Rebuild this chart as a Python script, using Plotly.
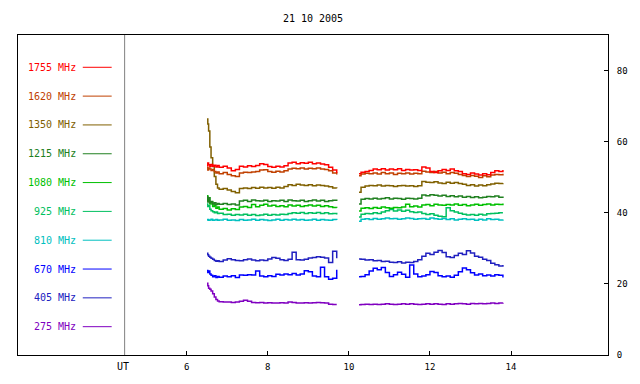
import plotly.graph_objects as go

TITLE = "21 10 2005"
X_TICKS = [6, 8, 10, 12, 14]
Y_TICKS = [0, 20, 40, 60, 80]

FREQ_LABELS = ["1755 MHz", "1620 MHz", "1350 MHz", "1215 MHz", "1080 MHz",
               "925 MHz", "810 MHz", "670 MHz", "405 MHz", "275 MHz"]
COLORS = ["#ff0000", "#c04000", "#806000", "#208020", "#00c000",
          "#00c060", "#00c0c0", "#0000ff", "#2020c0", "#8000c0"]

# time axis (UT hours), first and second observing segment
T1 = [6.50, 6.52, 6.54, 6.57, 6.60, 6.64, 6.68, 6.72, 6.76, 6.80, 6.9, 7.0, 7.1, 7.2,
      7.3, 7.4, 7.5, 7.6, 7.7, 7.8, 7.9, 8.0, 8.1, 8.2, 8.3, 8.4, 8.5, 8.6, 8.7, 8.8,
      8.9, 9.0, 9.1, 9.2, 9.3, 9.4, 9.5, 9.6, 9.7]
T2 = [10.25, 10.3, 10.4, 10.5, 10.6, 10.7, 10.8, 10.9, 11.0, 11.1, 11.2, 11.3, 11.4,
      11.5, 11.6, 11.7, 11.8, 11.9, 12.0, 12.1, 12.2, 12.3, 12.4, 12.5, 12.6, 12.7,
      12.8, 12.9, 13.0, 13.1, 13.2, 13.3, 13.4, 13.5, 13.6, 13.7, 13.8]

f1755_a = [53.2, 54.0, 53.5, 53.0, 53.6, 53.1, 53.4, 52.9, 53.3, 52.8, 53.1, 52.6, 51.8, 52.2,
           53.1, 52.9, 53.2, 53.0, 53.3, 53.8, 53.6, 53.0, 52.8, 53.1, 52.9, 53.2, 54.0, 54.2,
           53.8, 54.1, 53.9, 54.2, 53.8, 54.0, 53.7, 53.5, 52.8, 52.0, 51.2]
f1755_b = [51.0, 51.4, 51.6, 51.9, 52.3, 52.1, 52.4, 52.0, 52.3, 52.1, 52.4, 51.9, 52.2, 52.0,
           52.1, 51.9, 52.9, 52.6, 51.6, 51.3, 51.8, 52.2, 51.9, 52.3, 51.8, 51.6, 51.0, 50.8,
           51.2, 50.9, 50.6, 51.0, 50.7, 51.3, 51.8, 51.6, 52.0]

f1620_a = [52.8, 52.0, 52.6, 52.3, 51.9, 52.2, 51.6, 51.2, 51.5, 51.0, 51.3, 50.8, 50.4, 50.2,
           51.2, 51.4, 51.3, 51.5, 51.6, 52.0, 52.1, 51.6, 51.4, 51.7, 51.5, 51.8, 52.3, 52.5,
           52.4, 52.6, 52.3, 52.5, 52.4, 52.6, 52.3, 52.2, 51.8, 51.2, 50.8]
f1620_b = [50.4, 50.9, 51.1, 51.0, 51.2, 50.9, 51.3, 51.0, 51.2, 50.8, 51.1, 51.0, 51.2, 50.9,
           51.1, 51.0, 51.7, 51.5, 51.3, 51.6, 51.2, 51.4, 51.0, 51.3, 51.1, 50.8, 50.5, 50.2,
           50.5, 50.3, 49.9, 50.4, 50.1, 50.6, 50.8, 50.7, 51.0]

f1350_a = [66.4, 65.0, 63.0, 58.5, 55.5, 53.0, 50.2, 48.0, 47.0, 46.6, 46.8, 46.4, 46.0, 45.6,
           46.8, 47.0, 46.8, 47.1, 46.9, 47.2, 47.0, 47.1, 46.9, 47.2, 47.0, 47.4, 47.9, 47.7,
           48.0, 47.8, 47.7, 47.9, 47.6, 47.8, 47.7, 47.5, 47.3, 47.0, 46.9]
f1350_b = [45.8, 47.2, 47.5, 47.7, 47.6, 47.8, 47.5, 47.7, 47.6, 47.4, 47.6, 47.7, 47.5, 47.6,
           47.4, 47.6, 48.8, 48.6, 48.5, 48.7, 48.4, 48.2, 48.6, 48.3, 48.5, 48.2, 48.0, 47.7,
           47.9, 47.5, 47.8, 47.6, 47.9, 48.1, 48.3, 48.2, 48.3]

f1215_a = [44.5, 43.0, 44.2, 42.8, 43.2, 42.5, 42.8, 42.3, 42.6, 42.4, 42.6, 42.3, 42.5, 42.2,
           43.3, 43.5, 43.2, 43.6, 43.4, 43.3, 43.5, 43.2, 43.4, 43.3, 43.5, 43.2, 43.6, 43.4,
           43.3, 43.5, 43.2, 43.4, 43.6, 43.3, 43.5, 43.2, 43.4, 43.5, 43.3]
f1215_b = [42.5, 43.8, 44.0, 43.9, 44.1, 43.9, 44.0, 44.2, 43.9, 44.1, 44.0, 43.8, 44.1, 44.0,
           43.9, 44.1, 45.0, 44.8, 45.1, 44.9, 44.7, 44.9, 44.6, 44.8, 44.5, 44.7, 44.4, 44.6,
           44.3, 44.5, 44.2, 44.4, 44.6, 44.5, 44.7, 44.4, 44.6]

f1080_a = [44.8, 43.5, 44.2, 42.5, 43.0, 41.8, 42.2, 41.3, 41.6, 41.0, 41.2, 40.8, 41.1, 40.9,
           41.6, 41.8, 41.5, 42.3, 41.7, 42.1, 42.4, 41.9, 42.1, 41.8, 42.0, 41.7, 42.2, 41.9,
           42.1, 41.8, 42.0, 42.2, 41.9, 42.1, 41.8, 42.0, 41.7, 41.5, 41.4]
f1080_b = [40.5, 41.3, 41.4, 41.2, 41.5, 41.3, 41.6, 41.4, 41.3, 41.5, 41.4, 41.6, 42.4, 41.7,
           41.9, 41.6, 42.2, 42.3, 42.0, 42.4, 42.2, 42.1, 42.3, 42.2, 42.5, 42.1, 42.3, 42.0,
           42.2, 42.4, 42.1, 42.3, 42.5, 42.2, 42.4, 42.3, 42.6]

f925_a = [42.5, 41.8, 42.0, 41.0, 40.6, 40.3, 40.0, 40.2, 39.8, 39.9, 39.5, 39.6, 39.3, 39.5,
          39.4, 39.6, 39.3, 39.5, 39.2, 39.4, 39.6, 39.3, 39.5, 39.4, 39.6, 39.5, 39.8, 40.0,
          39.9, 40.1, 39.8, 40.0, 39.9, 40.1, 39.8, 40.0, 39.7, 39.8, 39.5]
f925_b = [38.8, 39.6, 39.8, 39.7, 40.0, 39.8, 40.2, 40.6, 40.9, 40.5, 40.8, 40.4, 40.7, 40.3,
          40.1, 40.2, 39.8, 39.5, 39.7, 39.3, 39.0, 38.9, 41.4, 40.6, 40.2, 39.9, 39.6, 39.4,
          39.5, 39.3, 39.6, 39.4, 39.7, 39.8, 39.9, 40.0, 40.0]

f810_a = [38.0, 38.1, 37.9, 38.0, 38.2, 37.9, 38.0, 38.1, 37.9, 38.0, 38.2, 37.9, 38.0, 37.8,
          38.1, 37.9, 38.0, 38.2, 37.9, 38.1, 38.0, 37.8, 38.0, 38.2, 37.9, 38.1, 38.0, 38.2,
          38.0, 38.1, 37.9, 38.0, 38.2, 37.9, 38.1, 38.0, 37.9, 38.1, 38.0]
f810_b = [37.6, 38.2, 38.3, 38.1, 38.4, 38.2, 38.3, 38.5, 38.3, 38.4, 38.2, 38.3, 38.5, 38.4,
          38.2, 38.3, 38.4, 38.2, 38.5, 38.3, 38.2, 38.4, 38.1, 38.3, 38.0, 38.2, 38.3, 38.1,
          38.2, 37.9, 38.2, 38.0, 38.3, 38.1, 38.2, 38.0, 38.1]

f670_a = [23.8, 23.2, 23.6, 22.8, 22.4, 22.0, 22.3, 21.8, 22.1, 21.9, 22.2, 22.0, 22.3, 21.8,
          22.5, 22.4, 22.6, 22.5, 23.6, 22.2, 22.0, 22.3, 22.1, 22.7, 22.5, 22.8, 22.6, 22.9,
          22.5, 22.8, 23.7, 23.4, 22.2, 22.0, 24.7, 22.0, 21.3, 21.6, 24.0]
f670_b = [22.0, 22.1, 22.6, 23.6, 24.4, 24.0, 24.6, 23.2, 22.1, 22.6, 23.3, 22.7, 21.9, 25.3,
          22.8, 22.0, 22.2, 22.6, 23.5, 23.2, 22.3, 22.0, 22.2, 21.9, 22.4, 23.4, 24.5, 24.0,
          23.1, 22.5, 22.8, 22.3, 22.5, 22.2, 22.6, 22.4, 21.8]

f405_a = [28.6, 28.2, 27.8, 27.5, 27.2, 26.9, 26.6, 26.4, 26.5, 26.3, 26.7, 27.1, 26.8, 26.6,
          26.5, 26.8, 27.0, 26.7, 26.5, 26.7, 26.6, 27.0, 27.4, 27.2, 26.8, 26.6, 26.9, 28.9,
          26.8, 26.7, 26.9, 27.3, 27.4, 27.6, 27.5, 27.3, 26.0, 29.2, 27.2]
f405_b = [27.0, 26.9, 26.7, 26.8, 26.5, 26.6, 26.3, 26.4, 26.1, 26.0, 26.2, 25.9, 26.1, 26.0,
          26.3, 26.8, 27.8, 28.6, 28.3, 28.9, 29.4, 28.8, 27.6, 27.4, 28.0, 28.6, 28.3, 29.3,
          28.7, 27.8, 27.5, 26.9, 26.6, 25.8, 25.4, 25.0, 25.3]

f275_a = [20.2, 19.5, 18.8, 18.5, 18.0, 17.2, 16.3, 15.6, 15.2, 15.0, 14.9, 14.9, 14.8, 14.9,
          15.1, 15.4, 15.1, 14.8, 14.7, 14.8, 14.6, 14.7, 14.6, 14.6, 14.7, 14.6, 14.9, 14.8,
          14.6, 14.6, 14.7, 14.6, 14.7, 14.8, 14.7, 14.6, 14.3, 14.2, 14.2]
f275_b = [14.1, 14.2, 14.3, 14.2, 14.3, 14.2, 14.3, 14.4, 14.3, 14.2, 14.3, 14.4, 14.3, 14.4,
          14.3, 14.2, 14.3, 14.4, 14.3, 14.4, 14.3, 14.2, 14.4, 14.3, 14.4, 14.5, 14.4, 14.3,
          14.5, 14.4, 14.5, 14.4, 14.5, 14.6, 14.5, 14.6, 14.7]

SEG_A = [f1755_a, f1620_a, f1350_a, f1215_a, f1080_a, f925_a, f810_a, f670_a, f405_a, f275_a]
SEG_B = [f1755_b, f1620_b, f1350_b, f1215_b, f1080_b, f925_b, f810_b, f670_b, f405_b, f275_b]

# ---- layout geometry (pixels) ----
W, H = 640, 384
PL, PR, PT, PB = 18, 610, 35, 359
PW, PH = PR - PL, PB - PT


def px(x):
    return (x - PL) / PW


def py(y):
    return (PB - y) / PH


MONO = "DejaVu Sans Mono"

fig = go.Figure()
order = list(range(len(FREQ_LABELS)))[::-1]
for i in order:
    xs = T1 + [10.0] + T2
    ys = SEG_A[i] + [None] + SEG_B[i]
    fig.add_trace(go.Scatter(x=xs, y=ys, mode="lines", name=FREQ_LABELS[i],
                             line=dict(color=COLORS[i], width=1.5, shape="hv"),
                             connectgaps=False, showlegend=False, hoverinfo="skip"))

shapes = []
annotations = []
row0, row_step = 67.7, 29.18
for i, (lab, col) in enumerate(zip(FREQ_LABELS, COLORS)):
    yy = py(row0 + i * row_step)
    annotations.append(dict(x=px(78), y=yy, xref="paper", yref="paper", text=lab,
                            showarrow=False, xanchor="right", yanchor="middle",
                            font=dict(family=MONO, size=10, color=col)))
    shapes.append(dict(type="line", xref="paper", yref="paper", x0=px(83), x1=px(112),
                       y0=yy, y1=yy, line=dict(color=col, width=1)))

# separator line between legend and data area
shapes.append(dict(type="line", xref="paper", yref="paper", x0=px(125), x1=px(125),
                   y0=0, y1=1, line=dict(color="#808080", width=1)))
annotations.append(dict(x=px(123), y=py(371), xref="paper", yref="paper", text="UT",
                        showarrow=False, xanchor="center", yanchor="middle",
                        font=dict(family=MONO, size=10, color="#000000")))

fig.update_layout(
    width=W, height=H, autosize=False,
    margin=dict(l=PL, r=W - PR, t=PT, b=H - PB, pad=0),
    paper_bgcolor="white", plot_bgcolor="white",
    title=dict(text=TITLE, x=px(314), xref="paper", y=1 - 18 / H, yref="container",
               xanchor="center", yanchor="middle",
               font=dict(family=MONO, size=10, color="#000000")),
    shapes=shapes, annotations=annotations,
    showlegend=False,
)
fig.update_xaxes(range=[1.838, 16.392], tickvals=X_TICKS, ticktext=[str(v) for v in X_TICKS],
                 ticks="inside", ticklen=4, tickcolor="black", showline=True, mirror=True,
                 linecolor="black", linewidth=1, showgrid=False, zeroline=False,
                 tickfont=dict(family=MONO, size=9, color="#000000"), ticklabelstandoff=3)
fig.update_yaxes(range=[0, 90], side="right", tickvals=Y_TICKS,
                 ticktext=[str(v) for v in Y_TICKS],
                 ticks="inside", ticklen=4, tickcolor="black", showline=True, mirror=True,
                 linecolor="black", linewidth=1, showgrid=False, zeroline=False,
                 tickfont=dict(family=MONO, size=9, color="#000000"), ticklabelstandoff=6)

fig.write_html("out.html",
               config={"displayModeBar": False, "responsive": False},
               post_script="document.body.style.margin='0';document.body.style.overflow='hidden';")
